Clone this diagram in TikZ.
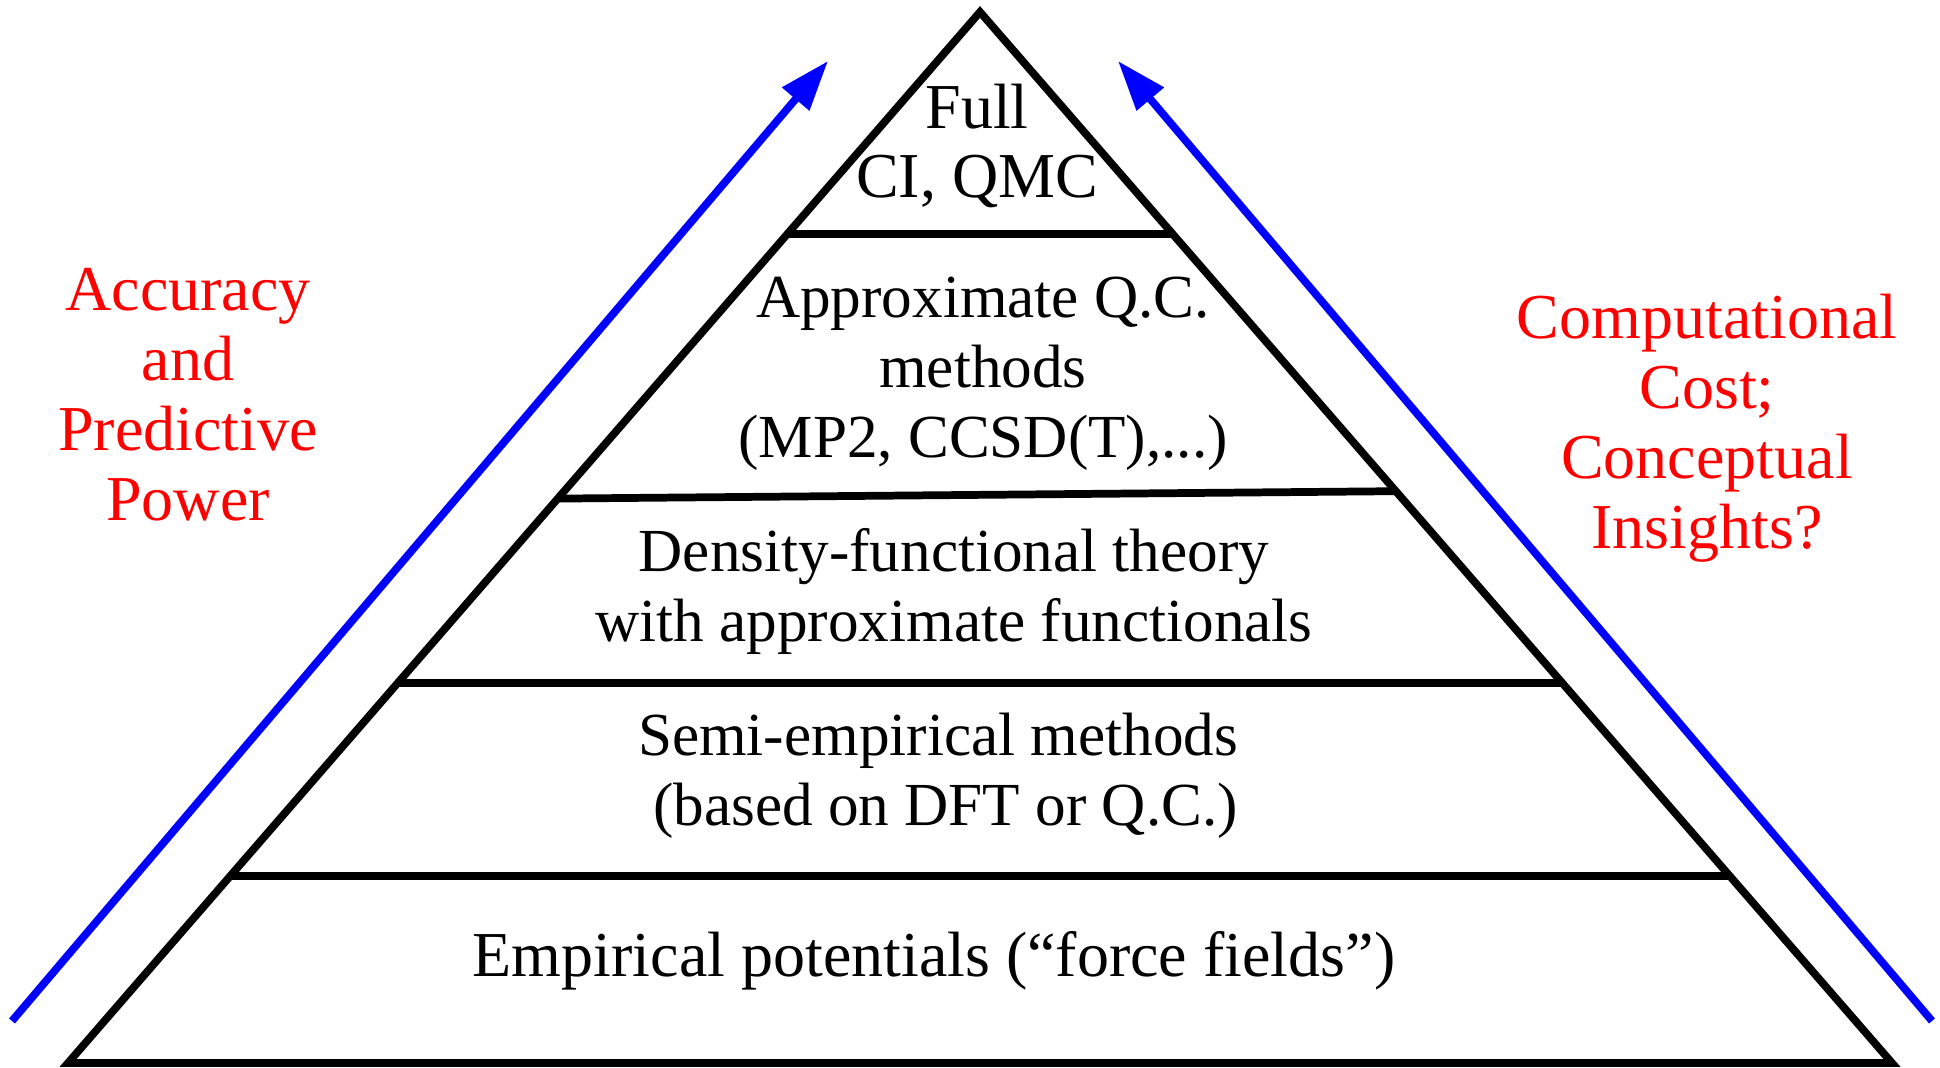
\documentclass[tikz,border=0pt]{standalone}
\usepackage{fontspec}
\setmainfont{Liberation Serif}
\usetikzlibrary{arrows.meta, positioning}

\begin{document}
\begin{tikzpicture}[
  x=0.01cm, y=-0.01cm,
  every node/.style={align=center, font=\fontsize{18.2}{19.9}\selectfont},
  small/.style={font=\fontsize{17.4}{19.9}\selectfont},
  tier/.style={line width=2.2pt},
  side/.style={text=red},
  trend/.style={-{Triangle[length=5mm, width=3.4mm]}, line width=2.2pt, blue}
]
\useasboundingbox (0,0) rectangle (1940,1068);
\coordinate (apex) at (980,12);
\coordinate (bl) at (68,1063);
\coordinate (br) at (1892,1063);
\coordinate (l1a) at (788,234);
\coordinate (l1b) at (1172,234);
\coordinate (l2a) at (558,498.6);
\coordinate (l2b) at (1396,491.2);
\coordinate (l3a) at (398,683);
\coordinate (l3b) at (1562,683);
\coordinate (l4a) at (230,876);
\coordinate (l4b) at (1730,876);
\draw[tier] (apex) -- (br) -- (bl) -- cycle;
\draw[tier] (l1a) -- (l1b);
\draw[tier] (l2a) -- (l2b);
\draw[tier] (l3a) -- (l3b);
\draw[tier] (l4a) -- (l4b);
\node (fullci) at (977,146) {Full\\CI, QMC};
\node[small] (qc) at (983,374) {Approximate Q.C.\\methods\\(MP2, CCSD(T),...)};
\node[small] (dft) at (954,591) {Density-functional theory\\with approximate functionals};
\node[small] (semi) at (938,776) {Semi-empirical methods\\~(based on DFT or Q.C.)};
\node (empir) at (934,961) {Empirical potentials (``force fields'')};
\node[side] (accuracy) at (188,395) {Accuracy\\and\\Predictive\\Power};
\node[side] (cost) at (1707,428) {Computational\\Cost;\\Conceptual\\Insights?};
\coordinate (accfrom) at (12,1021);
\coordinate (accto) at (828,61);
\coordinate (costfrom) at (1932,1021);
\coordinate (costto) at (1118,61);
\draw[trend] (accfrom) -- (accto);
\draw[trend] (costfrom) -- (costto);
\end{tikzpicture}
\end{document}
